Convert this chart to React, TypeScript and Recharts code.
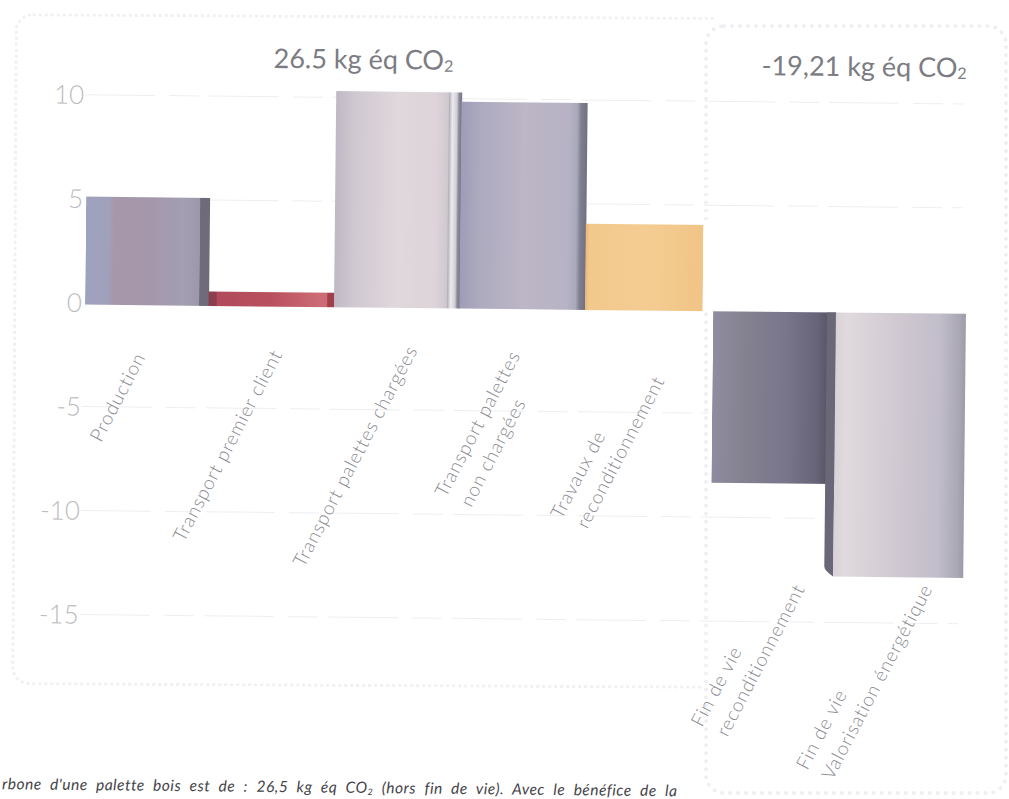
import React from "react";
import { BarChart, Bar, XAxis, YAxis, CartesianGrid, Cell } from "recharts";

const categories = [
  "Production",
  "Transport premier client",
  "Transport palettes chargées",
  "Transport palettes\nnon chargées",
  "Travaux de\nreconditionnement",
  "Fin de vie\nreconditionnement",
  "Fin de vie\nValorisation énergétique",
];
const values = [5.1, 0.6, 10.3, 9.85, 4.05, -8.35, -12.8];
const yTicks = [-15, -10, -5, 0, 5, 10];
const gridValues = [-15, -10, -5, 5, 10];

const chartData = categories.map((name, i) => ({ name, value: values[i] }));

// Horizontal gradients that paint each bar's lit face and shaded side
const barStops: [number, string][][] = [
  [[0, "#ffffff"], [0.015, "#ffffff"], [0.02, "#9ea2bf"], [0.2, "#a0a0bb"], [0.24, "#a797aa"], [0.55, "#a597ab"], [0.8, "#a39fb3"], [0.92, "#9d97ab"], [0.925, "#6f6a79"], [1, "#6d6c78"]],
  [[0, "#87404f"], [0.06, "#8d3f4e"], [0.07, "#b04b5c"], [0.5, "#b9505f"], [0.88, "#cc6b75"], [0.94, "#cc6b75"], [0.945, "#a0404c"], [1, "#a0404c"]],
  [[0, "#bfb9c5"], [0.15, "#cfc8d0"], [0.5, "#e0d8dc"], [0.8, "#ddd3d8"], [0.89, "#cfc9cf"], [0.9, "#b8b3bb"], [0.925, "#eceaee"], [0.96, "#cfccd4"], [0.975, "#8c8b99"], [1, "#75758a"]],
  [[0, "#9e9db6"], [0.15, "#adaabf"], [0.5, "#bcb6c6"], [0.85, "#b7b3c5"], [0.92, "#a9a8bb"], [0.95, "#7f7f92"], [1, "#6f7082"]],
  [[0, "#e9b878"], [0.03, "#f2c88c"], [0.5, "#f4cc92"], [0.93, "#f1c486"], [0.935, "#ffffff"], [1, "#ffffff"]],
  [[0, "#ffffff"], [0.02, "#ffffff"], [0.025, "#8f8ca0"], [0.3, "#83808f"], [0.6, "#79768c"], [0.85, "#67647a"], [0.95, "#56545f"], [1, "#5a5a66"]],
  [[0, "#d8d2d8"], [0.08, "#e0dade"], [0.5, "#cfc8d0"], [0.8, "#c2bdcb"], [0.95, "#aaa8b4"], [1, "#9c9ba8"]],
];

const LABEL_COLOR = "#8b8b91";
const LABEL_FONT = "Lato, sans-serif";
const BASE_OVERSHOOT = 2;
const labelOffsets = [
  { dx: -43.3, dy: -171.5 },
  { dx: -84.7, dy: -72.5 },
  { dx: -90, dy: -48.5 },
  { dx: -74.3, dy: -120 },
  { dx: -83.7, dy: -99.5 },
  { dx: -66.8, dy: 107 },
  { dx: -86.7, dy: 149 },
];

function SlantedTick(props: any) {
  const { x, y, payload, index } = props;
  const off = labelOffsets[index] ?? { dx: 0, dy: 0 };
  const lines = String(payload.value).split("\n");
  return (
    <g transform={`translate(${x + off.dx},${y + off.dy}) rotate(-63)`}>
      <text fontFamily={LABEL_FONT} fontWeight={300} fontSize={19} letterSpacing={0.8} fill={LABEL_COLOR} textAnchor="start">
        {lines.map((line, i) => (
          <tspan key={i} x={i * 3} y={i * 27}>
            {line}
          </tspan>
        ))}
      </text>
    </g>
  );
}

function BarShape(props: any) {
  const { x, y, width, height, fill, index } = props;
  const rawTop = Math.min(y, y + height);
  const rawH = Math.abs(height);
  const negative = values[index] < 0;
  const top = negative ? rawTop + BASE_OVERSHOOT : rawTop;
  const h = negative ? rawH - BASE_OVERSHOOT : rawH + BASE_OVERSHOOT;
  const isLast = index === values.length - 1;
  return (
    <g>
      {isLast && (
        <path
          d={`M${x} ${top} L${x - 9} ${top} L${x - 9} ${top + h - 10} Q${x - 9} ${top + h - 6} ${x} ${top + h} Z`}
          fill="#6a6878"
        />
      )}
      <rect x={x} y={top} width={isLast ? width + 4 : width} height={h} fill={fill} />
    </g>
  );
}

const titleStyle: React.CSSProperties = {
  position: "absolute",
  fontFamily: "Lato, sans-serif",
  fontWeight: 400,
  fontSize: 27,
  color: "#7c7c83",
  whiteSpace: "nowrap",
  lineHeight: "30px",
};
const subStyle: React.CSSProperties = { fontSize: 16, verticalAlign: "-2px", lineHeight: 0 };

export default function App() {
  return (
    <div style={{ position: "fixed", left: 0, top: 0, width: 1009, height: 799, overflow: "hidden", background: "#fff" }}>
      <div
        style={{
          position: "absolute", left: 13, top: 15, width: 700, height: 672,
          border: "3px dotted #f0f0f2", borderRight: "none", borderRadius: "18px 0 0 18px",
          boxSizing: "border-box", transform: "rotate(0.3deg)",
        }}
      />
      <div
        style={{
          position: "absolute", left: 704, top: 24, width: 304, height: 771,
          border: "4px dotted #efeff3", borderRadius: 20, background: "#fff",
          boxSizing: "border-box",
        }}
      />
      <div
        style={{
          position: "absolute", left: 0, top: 0, width: 1009, height: 799,
          transform: "rotate(0.6deg)", transformOrigin: "85px 304px",
        }}
      >
        <BarChart
          width={1009}
          height={799}
          data={chartData}
          barCategoryGap={0}
          barGap={0}
          margin={{ top: 88.5, right: 47.5, bottom: 183.5, left: 0 }}
        >
          <CartesianGrid
            horizontal
            vertical={false}
            horizontalValues={gridValues}
            stroke="#eeeef1"
            strokeDasharray="70 14 30 10"
          />
          <defs>
            {barStops.map((stops, i) => (
              <linearGradient key={i} id={`bar-${i}`} x1="0" y1="0" x2="1" y2="0">
                {stops.map(([o, c], j) => (
                  <stop key={j} offset={o} stopColor={c} />
                ))}
              </linearGradient>
            ))}
          </defs>
          <XAxis
            dataKey="name"
            axisLine={false}
            tickLine={false}
            tickSize={0}
            tickMargin={0}
            height={1}
            interval={0}
            tick={<SlantedTick />}
          />
          <YAxis
            type="number"
            domain={[-15, 10]}
            ticks={yTicks}
            width={83}
            axisLine={false}
            tickLine={false}
            tickSize={0}
            tickMargin={1}
            interval={0}
            tick={{ fill: "#bcbcc1", fontSize: 26, fontFamily: LABEL_FONT, fontWeight: 300 }}
          />
          <Bar dataKey="value" isAnimationActive={false} shape={<BarShape />}>
            {chartData.map((_, i) => (
              <Cell key={i} fill={`url(#bar-${i})`} />
            ))}
          </Bar>
        </BarChart>
        <div style={{ ...titleStyle, left: 271, top: 41 }}>
          26.5 kg éq CO<span style={subStyle}>2</span>
        </div>
        <div style={{ ...titleStyle, left: 759, top: 43 }}>
          -19,21 kg éq CO<span style={subStyle}>2</span>
        </div>
        <div
          style={{
            position: "absolute", left: 7, top: 775, fontFamily: LABEL_FONT, fontStyle: "italic",
            fontSize: 15.5, letterSpacing: 0.5, color: "#444448", whiteSpace: "nowrap", wordSpacing: 4.3, lineHeight: "18px",
          }}
        >
          rbone d'une palette bois est de : 26,5 kg éq CO<span style={{ fontSize: 9, verticalAlign: "-2px", lineHeight: 0 }}>2</span> (hors fin de vie). Avec le bénéfice de la
        </div>
      </div>
    </div>
  );
}
